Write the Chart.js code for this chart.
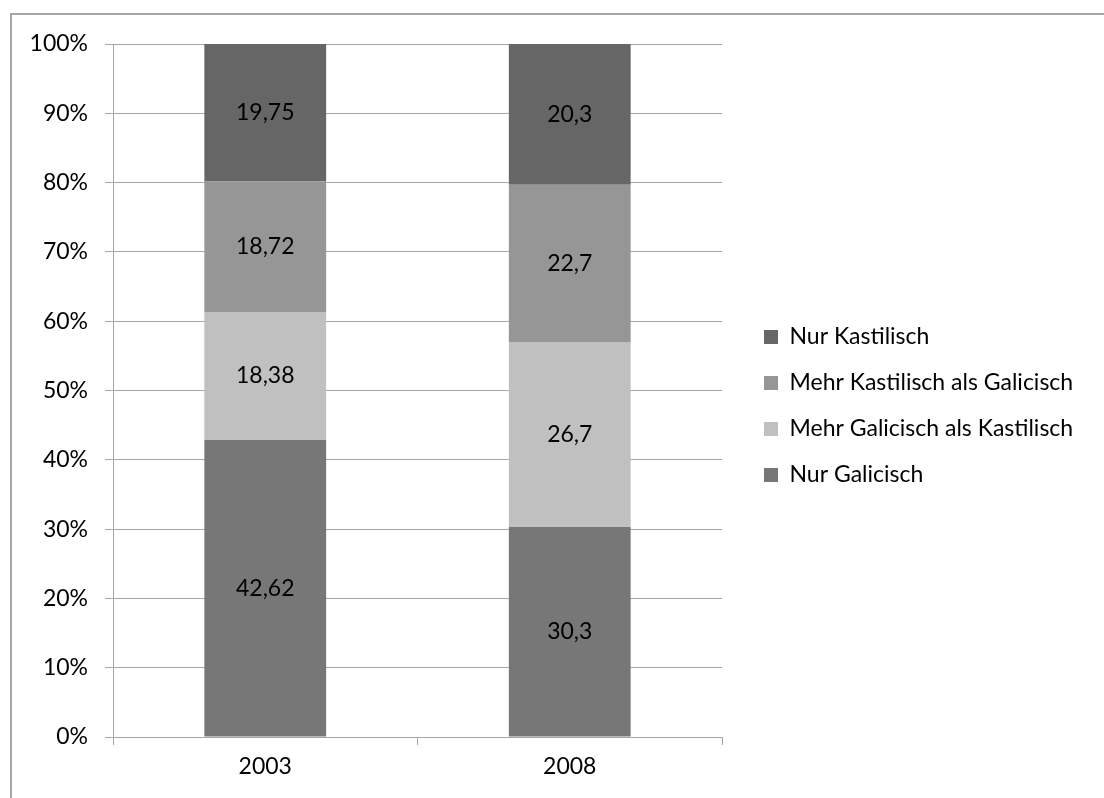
<!DOCTYPE html>
<html>
<head>
<meta charset="utf-8">
<script src="https://cdn.jsdelivr.net/npm/chart.js@4.4.0/dist/chart.umd.min.js"></script>
<style>
  html, body { margin: 0; padding: 0; background: #fff; }
  #wrap { position: relative; width: 1104px; height: 798px; overflow: hidden; }
  #frame { position: absolute; left: 10px; top: 13px; width: 1200px; height: 900px; border: 2px solid #a6a6a6; }
  #chart { position: absolute; left: 0; top: 0; }
</style>
</head>
<body>
<div id="wrap">
  <div id="frame"></div>
  <canvas id="chart" width="1104" height="798"></canvas>
</div>
<script>
const years = ['2003', '2008'];
const seriesNames = ['Nur Galicisch', 'Mehr Galicisch als Kastilisch', 'Mehr Kastilisch als Galicisch', 'Nur Kastilisch'];
const nurGalicisch = [42.62, 30.3];
const mehrGalicisch = [18.38, 26.7];
const mehrKastilisch = [18.72, 22.7];
const nurKastilisch = [19.75, 20.3];
const colors = ['#777777', '#c0c0c0', '#969696', '#666666'];

const raw = [nurGalicisch, mehrGalicisch, mehrKastilisch, nurKastilisch];
const totals = years.map((y, i) => raw.reduce((s, arr) => s + arr[i], 0));

const fontFamily = 'Lato, "Open Sans", sans-serif';
const fontSize = 23;

// draws the value in the middle of each segment
const valueLabels = {
  id: 'valueLabels',
  afterDatasetsDraw(chart) {
    const ctx = chart.ctx;
    ctx.save();
    ctx.font = fontSize + 'px ' + fontFamily;
    ctx.fillStyle = '#000';
    ctx.textAlign = 'center';
    ctx.textBaseline = 'middle';
    chart.data.datasets.forEach((ds, di) => {
      chart.getDatasetMeta(di).data.forEach((bar, i) => {
        const mid = (bar.y + bar.base) / 2;
        ctx.fillText(String(ds.raw[i]).replace('.', ','), bar.x, mid);
      });
    });
    ctx.restore();
  }
};

// nudge legend to where it sits in the original
const legendShift = {
  id: 'legendShift',
  afterLayout(chart) {
    const l = chart.legend;
    l.left += 19; l.right = chart.width;
    l.top -= 15; l.bottom -= 15;
  }
};

new Chart(document.getElementById('chart'), {
  type: 'bar',
  data: {
    labels: years,
    datasets: raw.map((arr, k) => ({
      label: seriesNames[k],
      raw: arr,
      data: arr.map((v, i) => v / totals[i] * 100),
      backgroundColor: colors[k],
      borderWidth: 0,
      categoryPercentage: 1,
      barPercentage: 0.4
    }))
  },
  options: {
    responsive: false,
    animation: false,
    layout: { padding: { top: 44, left: 0, right: 82, bottom: 0 } },
    plugins: {
      tooltip: { enabled: false },
      legend: {
        position: 'right',
        reverse: true,
        maxWidth: 300,
        labels: {
          boxWidth: 14,
          boxHeight: 14,
          padding: 23,
          color: '#000',
          font: { size: fontSize, family: fontFamily }
        }
      }
    },
    scales: {
      x: {
        stacked: true,
        afterFit(scale) { scale.height = 61; },
        grid: { offset: true, drawOnChartArea: false, drawTicks: true, tickLength: 8, color: '#a6a6a6' },
        border: { color: '#a6a6a6', width: 1 },
        ticks: { color: '#000', padding: 8, font: { size: fontSize, family: fontFamily } }
      },
      y: {
        stacked: true,
        min: 0,
        max: 100,
        afterFit(scale) { scale.width = 113; },
        grid: { color: '#a6a6a6', tickLength: 8 },
        border: { color: '#a6a6a6', width: 1 },
        ticks: {
          stepSize: 10,
          color: '#000',
          padding: 17,
          font: { size: fontSize, family: fontFamily },
          callback: v => v + '%'
        }
      }
    }
  },
  plugins: [valueLabels, legendShift]
});
</script>
</body>
</html>
